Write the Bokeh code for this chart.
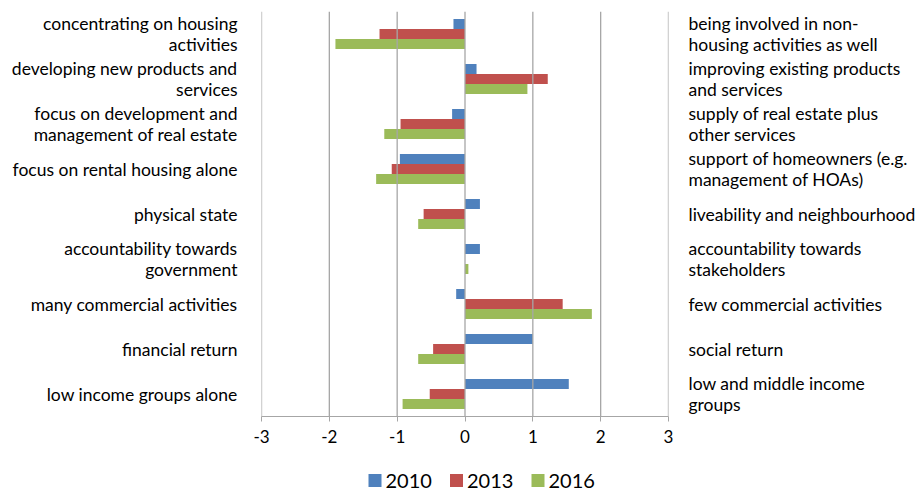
from bokeh.plotting import figure
from bokeh.layouts import column
from bokeh.models import (FactorRange, ColumnDataSource, FixedTicker, Range1d,
                          CategoricalAxis, Span)
from bokeh.core.properties import value
from bokeh.transform import dodge
from bokeh.embed import file_html
from bokeh.resources import INLINE

# Pole on the negative side of each scale (left) and on the positive side (right)
left_labels = [
    "concentrating on housing\nactivities",
    "developing new products and\nservices",
    "focus on development and\nmanagement of real estate",
    "focus on rental housing alone",
    "physical state",
    "accountability towards\ngovernment",
    "many commercial activities",
    "financial return",
    "low income groups alone",
]
right_labels = [
    "being involved in non-\nhousing activities as well",
    "improving existing products\nand services",
    "supply of real estate plus\nother services",
    "support of homeowners (e.g.\nmanagement of HOAs)",
    "liveability and neighbourhood",
    "accountability towards\nstakeholders",
    "few commercial activities",
    "social return",
    "low and middle income\ngroups",
]
years = ["2010", "2013", "2016"]
v2010 = [-0.17, 0.17, -0.19, -0.96, 0.22, 0.22, -0.13, 1.00, 1.53]
v2013 = [-1.26, 1.22, -0.95, -1.08, -0.61, 0.00, 1.44, -0.47, -0.52]
v2016 = [-1.91, 0.92, -1.19, -1.31, -0.69, 0.05, 1.87, -0.69, -0.92]
x_ticks = [-3, -2, -1, 0, 1, 2, 3]
x_tick_labels = ["-3", "-2", "-1", "0", "1", "2", "3"]

colors = ["#4F81BD", "#C0504D", "#9BBB59"]
FONT = "Lato"
GRID = "#A6A6A6"

source = ColumnDataSource(dict(cat=left_labels, v2010=v2010, v2013=v2013, v2016=v2016))

p = figure(width=921, height=452, output_backend="svg", toolbar_location=None,
           y_range=FactorRange(factors=list(reversed(left_labels))),
           x_range=Range1d(x_ticks[0], x_ticks[-1]),
           min_border_left=261, min_border_right=253,
           min_border_top=11, min_border_bottom=36)
p.extra_y_ranges = {"poles": FactorRange(factors=list(reversed(right_labels)))}
p.outline_line_color = None
p.background_fill_color = "white"
p.border_fill_color = "white"

# vertical gridlines at every tick, including the frame edges
for t in x_ticks:
    p.add_layout(Span(location=t, dimension="height", line_color=GRID, line_width=1.3))
p.xgrid.grid_line_color = None
p.ygrid.grid_line_color = None

bar_h = 0.222
for yr, col, off in zip(years, colors, [bar_h, 0.0, -bar_h]):
    p.hbar(y=dodge("cat", off, range=p.y_range), right="v" + yr, left=0,
           height=bar_h, source=source, fill_color=col, line_color=None)

# x axis
p.xaxis.ticker = FixedTicker(ticks=x_ticks)
p.xaxis.major_label_overrides = {t: s for t, s in zip(x_ticks, x_tick_labels)}
p.xaxis.axis_line_color = GRID
p.xaxis.major_tick_line_color = GRID
p.xaxis.major_tick_out = 5
p.xaxis.major_tick_in = 0
p.xaxis.minor_tick_line_color = None
p.xaxis.major_label_text_font = FONT
p.xaxis.major_label_text_font_size = "17px"
p.xaxis.major_label_text_color = "#000000"
p.xaxis.major_label_standoff = 8


def style_pole_axis(ax, standoff):
    ax.axis_line_color = None
    ax.major_tick_line_color = None
    ax.minor_tick_line_color = None
    ax.major_label_text_font = FONT
    ax.major_label_text_font_size = "17.5px"
    ax.major_label_text_color = "#000000"
    ax.major_label_text_line_height = 1.03
    ax.major_label_standoff = standoff


# left poles: the category names themselves
style_pole_axis(p.yaxis[0], 18)

# right poles: opposite end of each scale
right_axis = CategoricalAxis(y_range_name="poles")
style_pole_axis(right_axis, 14)
p.add_layout(right_axis, "right")

# legend strip under the chart; its frame lines up with the chart's frame and
# uses a pixel-sized range so swatches and labels sit at fixed offsets
leg = figure(width=921, height=37, output_backend="svg", toolbar_location=None,
             x_range=Range1d(0, 407), y_range=Range1d(0, 37),
             min_border=0, outline_line_color=None)
leg.axis.visible = False
leg.grid.visible = False
leg_x0, leg_step, leg_y = 107, 81.5, 9
swatch_x = [leg_x0 + 6.5 + i * leg_step for i in range(len(years))]
label_x = [leg_x0 + 17 + i * leg_step for i in range(len(years))]
leg_src = ColumnDataSource(dict(sx=swatch_x, lx=label_x, y=[leg_y] * len(years),
                                year=years, color=colors))
leg.scatter(x="sx", y="y", marker="square", size=13, fill_color="color",
            line_color=None, source=leg_src)
leg.text(x="lx", y="y", text="year", source=leg_src, text_font=value(FONT),
         text_font_size="20px", text_baseline="middle", text_align="left",
         text_color="#000000")

layout = column(p, leg, spacing=0)
open("out.html", "w").write(file_html(layout, INLINE))
